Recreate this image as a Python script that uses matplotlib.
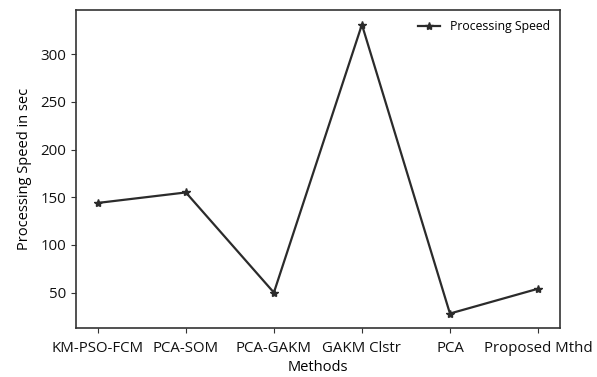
import matplotlib
matplotlib.use("Agg")
import matplotlib.pyplot as plt

# processing time per clustering method
methods = ["KM-PSO-FCM", "PCA-SOM", "PCA-GAKM", "GAKM Clstr", "PCA", "Proposed Mthd"]
speed_sec = [144, 155, 50, 331, 28, 54]

plt.rcParams["font.family"] = ["Open Sans", "DejaVu Sans"]

fig = plt.figure(figsize=(5.97, 3.77), dpi=100)
ax = fig.add_axes([0.127, 0.13, 0.811, 0.843])

ax.plot(methods, speed_sec, color="#2b2b2b", linewidth=1.6, marker="*",
        markersize=6, label="Processing Speed")

ax.set_xlabel("Methods", fontsize=10.5, labelpad=3)
ax.set_ylabel("Processing Speed in sec", fontsize=10.5, labelpad=6)
ax.tick_params(axis="both", labelsize=10.8, color="#333333", labelcolor="#111111")
ax.tick_params(axis="x", pad=6)
for sp in ax.spines.values():
    sp.set_color("#333333")
    sp.set_linewidth(1.2)

ax.legend(loc="upper right", frameon=False, fontsize=8.8, handlelength=1.8,
          borderaxespad=0.4)

fig.savefig("out.png", dpi=100)
